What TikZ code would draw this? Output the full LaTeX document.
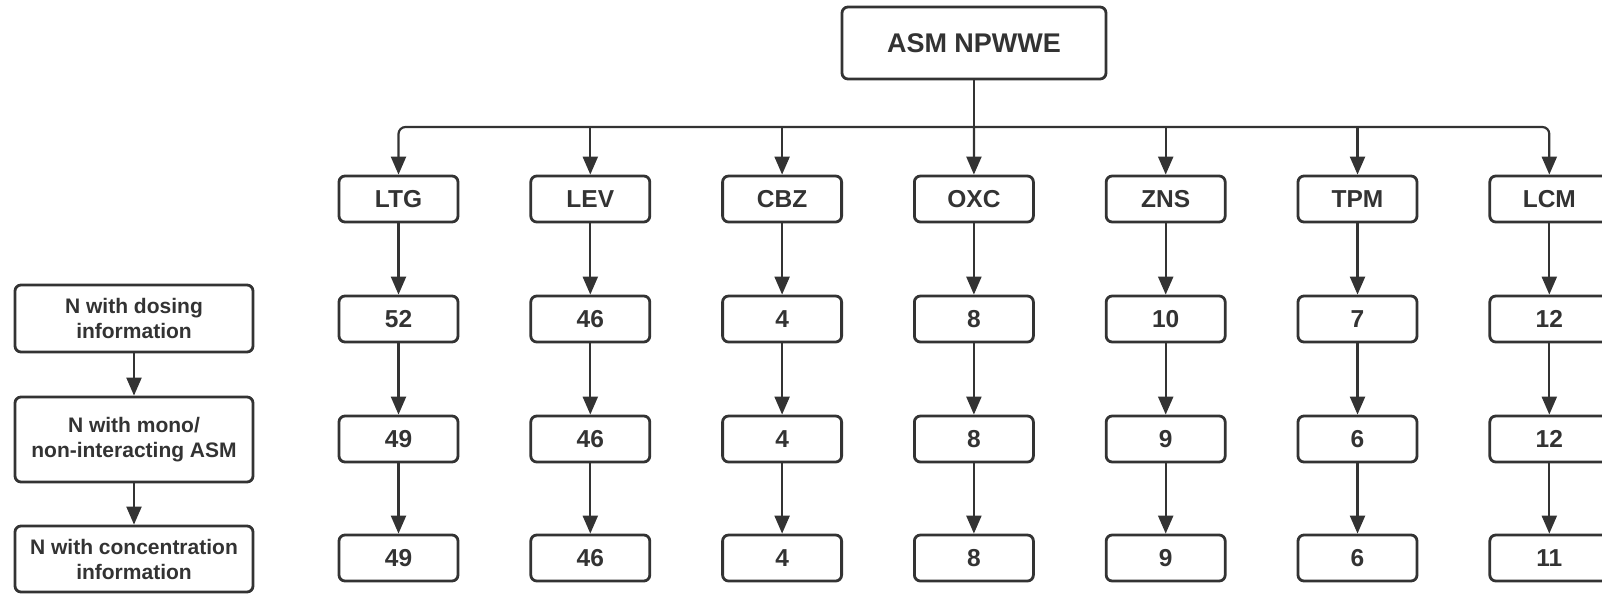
\documentclass[tikz,border=0pt]{standalone}
\usepackage{fontspec}
\setmainfont{Liberation Sans}
\usetikzlibrary{arrows.meta}
\definecolor{ink}{HTML}{333333}
\tikzset{
  x=1pt,y=1pt,
  box/.style={draw=ink, line width=2.8pt, rounded corners=6pt, fill=white, text=ink,
    font=\bfseries\fontsize{24.5}{28}\selectfont, align=center, inner sep=0pt},
  colbox/.style={box, minimum width=119pt, minimum height=46pt},
  sidebox/.style={box, minimum width=238pt, font=\bfseries\fontsize{21}{25}\selectfont},
  arr/.style={draw=ink, line width=2.2pt, -{Triangle[length=18pt,width=15pt]}},
  ln/.style={draw=ink, line width=2.2pt}
}
\begin{document}
\begin{tikzpicture}
\useasboundingbox (0,0) rectangle (1602,-595);
\clip (0,0) rectangle (1602,-595);
\node[box, minimum width=264pt, minimum height=72pt, font=\bfseries\fontsize{27}{30}\selectfont] (top) at (974,-43) {ASM NPWWE};
\coordinate (bus) at (974,-127);
\foreach \name/\lab/\x/\a/\b/\c in {ltg/LTG/398.5/52/49/49, lev/LEV/590.3/46/46/46, cbz/CBZ/782.1/4/4/4, oxc/OXC/973.9/8/8/8, zns/ZNS/1165.7/10/9/9, tpm/TPM/1357.5/7/6/6, lcm/LCM/1549.3/12/12/11}{
  \node[colbox] (\name0) at (\x,-199) {\lab};
  \node[colbox] (\name1) at (\x,-319) {\a};
  \node[colbox] (\name2) at (\x,-439) {\b};
  \node[colbox] (\name3) at (\x,-558) {\c};
  \draw[arr] (\name0) -- (\name1);
  \draw[arr] (\name1) -- (\name2);
  \draw[arr] (\name2) -- (\name3);
}
\draw[ln] (top.south) -- (bus);
\draw[arr, rounded corners=7pt] (bus) -| (ltg0.north);
\draw[arr, rounded corners=7pt] (bus) -| (lcm0.north);
\foreach \name in {lev,cbz,zns,tpm}{
  \draw[arr] (bus -| \name0.north) -- (\name0.north);
}
\draw[arr] (bus) -- (oxc0.north);
\node[sidebox, minimum height=67pt] (s1) at (134,-318.5) {N with dosing\\information};
\node[sidebox, minimum height=85pt] (s2) at (134,-439.5) {N with mono/\\non-interacting ASM};
\node[sidebox, minimum height=66pt] (s3) at (134,-559) {N with concentration\\information};
\draw[arr] (s1) -- (s2);
\draw[arr] (s2) -- (s3);
\end{tikzpicture}
\end{document}
